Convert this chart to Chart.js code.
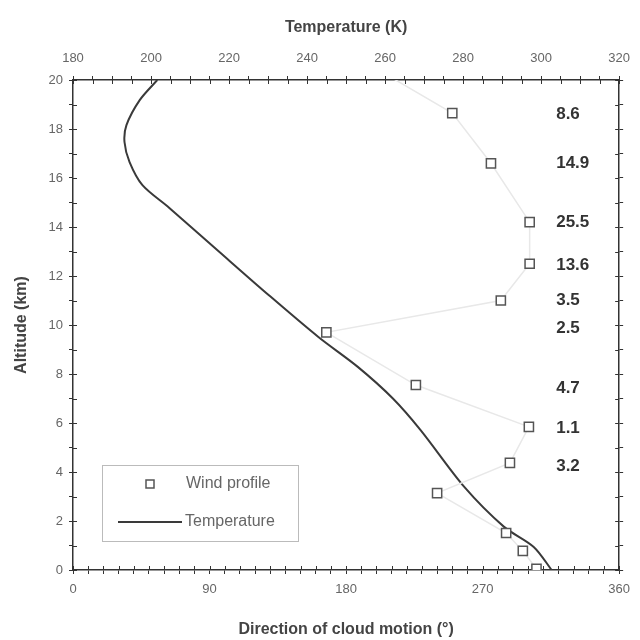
<!DOCTYPE html>
<html>
<head>
<meta charset="utf-8">
<script src="https://cdn.jsdelivr.net/npm/chart.js@4.4.1/dist/chart.umd.min.js"></script>
<style>
  html, body { margin: 0; padding: 0; background: #fff; }
  #wrap { width: 640px; height: 640px; }
</style>
</head>
<body>
<div id="wrap"><canvas id="chart"></canvas></div>
<script>
// wind profile: direction of cloud motion (deg) against altitude (km)
const windDir = [185, 250, 275.5, 301, 301, 282, 167, 226, 300.5, 288, 240, 285.5, 296.5, 305.5];
const windAlt = [21.0, 18.65, 16.6, 14.2, 12.5, 11.0, 9.7, 7.55, 5.84, 4.37, 3.14, 1.51, 0.78, 0.05];

// wind speed written on the right side
const speedText = ["8.6", "14.9", "25.5", "13.6", "3.5", "2.5", "4.7", "1.1", "3.2"];
const speedAlt = [18.6, 16.6, 14.2, 12.45, 11.0, 9.88, 7.43, 5.8, 4.24];

// temperature profile (K) against altitude (km)
const tempK = [302.7, 298.1, 290.5, 280.3, 269.1, 262.0, 253.0, 242.9, 229.6, 217.4, 204.7, 197.8, 194.5, 193.2, 193.7, 197.1, 201.6];
const tempAlt = [0, 0.94, 1.76, 3.39, 5.71, 7.0, 8.29, 9.51, 11.3, 13.0, 14.78, 15.71, 16.65, 17.47, 18.16, 19.18, 20];

// labelled ticks
const dirTicks = [0, 90, 180, 270, 360];
const tempTicks = [180, 200, 220, 240, 260, 280, 300, 320];
const altTicks = [0, 2, 4, 6, 8, 10, 12, 14, 16, 18, 20];

const axisColor = "#333";
const tickFont = { family: "Liberation Sans, Arial, sans-serif", size: 13 };
const titleFont = { family: "Liberation Sans, Arial, sans-serif", size: 16, weight: "bold" };

function labelIf(list) {
  return v => (list.includes(v) ? String(v) : "");
}

// small tick marks on the inner side of every axis
const innerTicks = {
  id: "innerTicks",
  afterDraw(chart) {
    const ctx = chart.ctx;
    const a = chart.chartArea;
    ctx.save();
    ctx.strokeStyle = axisColor;
    ctx.lineWidth = 1;
    ["x", "x2"].forEach(id => {
      const s = chart.scales[id];
      s.ticks.forEach(t => {
        const px = Math.round(s.getPixelForValue(t.value)) + 0.5;
        const y0 = id === "x" ? a.bottom : a.top;
        const d = id === "x" ? -4 : 4;
        ctx.beginPath(); ctx.moveTo(px, y0); ctx.lineTo(px, y0 + d); ctx.stroke();
      });
    });
    ["y", "y2"].forEach(id => {
      const s = chart.scales[id];
      s.ticks.forEach(t => {
        const py = Math.round(s.getPixelForValue(t.value)) + 0.5;
        const x0 = id === "y" ? a.left : a.right;
        const d = id === "y" ? 4 : -4;
        ctx.beginPath(); ctx.moveTo(x0, py); ctx.lineTo(x0 + d, py); ctx.stroke();
      });
    });
    ctx.restore();
  }
};

// wind speed numbers
const speedLabels = {
  id: "speedLabels",
  afterDatasetsDraw(chart) {
    const ctx = chart.ctx;
    const x = chart.scales.x.getPixelForValue(318.5);
    ctx.save();
    ctx.fillStyle = "#333";
    ctx.font = "bold 17px Liberation Sans, Arial, sans-serif";
    ctx.textAlign = "left";
    ctx.textBaseline = "middle";
    speedText.forEach((t, i) => {
      ctx.fillText(t, x, chart.scales.y.getPixelForValue(speedAlt[i]));
    });
    ctx.restore();
  }
};

// legend box in the lower left of the plot
const boxLegend = {
  id: "boxLegend",
  afterDraw(chart) {
    const ctx = chart.ctx;
    const a = chart.chartArea;
    const left = a.left + 29, top = a.top + 385, w = 196, h = 76;
    ctx.save();
    ctx.strokeStyle = "#bbb";
    ctx.lineWidth = 1;
    ctx.strokeRect(left + 0.5, top + 0.5, w, h);
    const wind = chart.data.datasets[0];
    const temp = chart.data.datasets[1];
    ctx.strokeStyle = wind.pointBorderColor;
    ctx.lineWidth = wind.pointBorderWidth;
    ctx.strokeRect(left + 44, top + 15, 8, 8);
    ctx.strokeStyle = temp.borderColor;
    ctx.lineWidth = temp.borderWidth;
    ctx.beginPath();
    ctx.moveTo(left + 16, top + 57);
    ctx.lineTo(left + 80, top + 57);
    ctx.stroke();
    ctx.fillStyle = "#666";
    ctx.font = "16px Liberation Sans, Arial, sans-serif";
    ctx.textBaseline = "middle";
    ctx.fillText(wind.label, left + 84, top + 19);
    ctx.fillText(temp.label, left + 83, top + 57);
    ctx.restore();
  }
};

new Chart(document.getElementById("chart"), {
  type: "scatter",
  data: {
    datasets: [{
      label: "Wind profile",
      data: windDir.map((d, i) => ({ x: d, y: windAlt[i] })),
      xAxisID: "x",
      yAxisID: "y",
      showLine: true,
      borderColor: "#e8e8e8",
      borderWidth: 1.5,
      pointStyle: "rect",
      pointRadius: 6.5,
      pointHoverRadius: 6.5,
      pointBorderColor: "#555",
      pointBorderWidth: 1.5,
      pointBackgroundColor: "#fff"
    }, {
      label: "Temperature",
      data: tempK.map((k, i) => ({ x: k, y: tempAlt[i] })),
      xAxisID: "x2",
      yAxisID: "y",
      showLine: true,
      borderColor: "#3a3a3a",
      borderWidth: 2,
      tension: 0.3,
      pointRadius: 0,
      pointHoverRadius: 0
    }]
  },
  options: {
    responsive: true,
    maintainAspectRatio: false,
    animation: false,
    layout: { padding: 0 },
    plugins: { legend: { display: false }, tooltip: { enabled: false } },
    scales: {
      x: {
        type: "linear", position: "bottom", min: 0, max: 360,
        afterFit: s => { s.height = 70; },
        ticks: { stepSize: 10, autoSkip: false, maxRotation: 0, padding: 8, color: "#666", font: tickFont, callback: labelIf(dirTicks) },
        grid: { drawOnChartArea: false, tickLength: 4, color: axisColor },
        border: { color: axisColor, width: 1.5 },
        title: { display: true, text: "Direction of cloud motion (°)", color: "#444", font: titleFont, padding: { top: 0, bottom: 1 } }
      },
      x2: {
        type: "linear", position: "top", min: 180, max: 320,
        afterFit: s => { s.height = 80; },
        ticks: { stepSize: 5, autoSkip: false, maxRotation: 0, padding: 10, color: "#666", font: tickFont, callback: labelIf(tempTicks) },
        grid: { drawOnChartArea: false, tickLength: 4, color: axisColor },
        border: { color: axisColor, width: 1.5 },
        title: { display: true, text: "Temperature (K)", color: "#444", font: titleFont, padding: { top: 18, bottom: 0 } }
      },
      y: {
        type: "linear", position: "left", min: 0, max: 20,
        afterFit: s => { s.width = 73; },
        ticks: { stepSize: 1, autoSkip: false, padding: 6, color: "#666", font: tickFont, callback: labelIf(altTicks) },
        grid: { drawOnChartArea: false, tickLength: 4, color: axisColor },
        border: { color: axisColor, width: 1.5 },
        title: { display: true, text: "Altitude (km)", color: "#444", font: titleFont, padding: { top: 12, bottom: 0 } }
      },
      y2: {
        type: "linear", position: "right", min: 0, max: 20,
        afterFit: s => { s.width = 16; },
        ticks: { stepSize: 1, autoSkip: false, display: true, color: "rgba(0,0,0,0)", font: { size: 1 }, padding: 0, callback: () => "" },
        grid: { drawOnChartArea: false, tickLength: 4, color: axisColor },
        border: { color: axisColor, width: 1.5 }
      }
    }
  },
  plugins: [innerTicks, speedLabels, boxLegend]
});
</script>
</body>
</html>
